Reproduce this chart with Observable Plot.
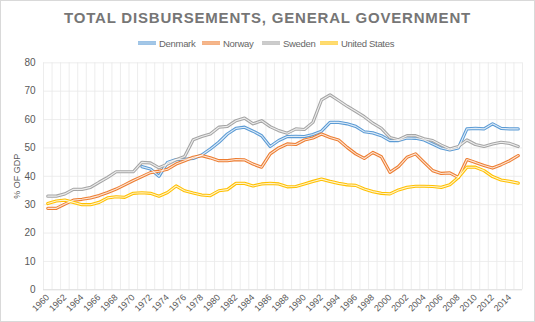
<!DOCTYPE html>
<html>
<head>
<meta charset="utf-8">
<script src="https://cdn.jsdelivr.net/npm/d3@7"></script>
<script src="https://cdn.jsdelivr.net/npm/@observablehq/plot@0.6"></script>
<style>
  html, body { margin: 0; padding: 0; background: #fff; }
  #wrap { position: relative; width: 535px; height: 322px; overflow: hidden; font-family: "Liberation Sans", Arial, sans-serif; }
  #border { position: absolute; left: 0; top: 0; width: 533px; height: 320px; border: 1px solid #d9d9d9; pointer-events: none; }
  #title { position: absolute; left: 0; top: 9px; width: 535px; text-align: center; white-space: nowrap; }
  #title span { font-weight: bold; font-size: 15px; color: #767676; letter-spacing: 2px; }
  #legend { position: absolute; left: 0; top: 38px; width: 535px; height: 14px; }
  .li { position: absolute; top: 0; font-size: 9.5px; letter-spacing: -0.3px; color: #666; line-height: 12px; white-space: nowrap; }
  .li svg { vertical-align: middle; margin-right: 3px; position: relative; top: -1px; }
  #chart { position: absolute; left: 0; top: 50px; }
</style>
</head>
<body>
<div id="wrap">
  <div id="title"><span>TOTAL DISBURSEMENTS, GENERAL GOVERNMENT</span></div>
  <div id="legend"></div>
  <div id="chart"></div>
  <div id="border"></div>
</div>
<script>
const years = d3.range(1960, 2016);
const seriesNames = ["Denmark", "Norway", "Sweden", "United States"];
const seriesColors = ["#5B9BD5", "#ED7D31", "#A5A5A5", "#FFC000"];
const yTicks = [0, 10, 20, 30, 40, 50, 60, 70, 80];
const xTickLabels = d3.range(1960, 2015, 2);

const denmark = [null, null, null, null, null, null, null, null, null, null, null,
  43.4, 42.6, 40.0, 44.9, 45.9, 46.0, 46.3, 47.5, 49.6, 52.0,
  54.9, 56.9, 57.3, 55.9, 54.3, 50.5, 52.6, 54.0, 54.1, 54.0,
  54.7, 55.9, 59.0, 59.0, 58.5, 57.6, 55.7, 55.3, 54.3, 52.6,
  52.6, 53.5, 53.4, 52.8, 51.4, 50.0, 49.3, 50.0, 56.7, 56.9,
  56.7, 58.5, 56.9, 56.7, 56.7];
const norway = [28.7, 28.7, 30.2, 31.6, 31.9, 32.4, 33.2, 34.3, 35.5, 37.0,
  38.5, 39.9, 41.3, 41.8, 42.5, 44.3, 45.5, 46.7, 47.3, 46.5,
  45.5, 45.5, 45.9, 45.8, 44.3, 43.2, 47.9, 50.0, 51.4, 51.2,
  52.8, 53.5, 54.9, 53.7, 52.8, 50.2, 47.9, 46.3, 48.4, 46.9,
  41.4, 43.4, 46.7, 47.9, 44.9, 42.0, 41.0, 41.2, 39.6, 45.9,
  44.9, 43.8, 42.9, 44.1, 45.5, 47.3];
const sweden = [33.0, 33.0, 33.8, 35.4, 35.4, 36.1, 37.9, 39.6, 41.6, 41.6,
  41.6, 44.9, 44.7, 43.0, 44.3, 45.8, 47.0, 52.9, 54.0, 54.9,
  57.3, 57.6, 59.6, 60.5, 58.5, 59.6, 57.5, 56.1, 55.2, 56.7,
  56.5, 59.0, 66.9, 68.7, 66.7, 64.7, 62.9, 61.0, 58.7, 56.9,
  53.7, 52.9, 54.3, 54.3, 53.2, 52.6, 51.0, 49.6, 50.5, 52.8,
  51.2, 50.5, 51.4, 52.0, 51.6, 50.5];
const unitedStates = [30.4, 31.3, 31.6, 30.8, 30.0, 30.0, 30.8, 32.4, 32.8, 32.6,
  34.0, 34.2, 34.0, 33.0, 34.3, 36.6, 34.9, 34.1, 33.4, 33.2,
  34.9, 35.3, 37.5, 37.5, 36.6, 37.3, 37.5, 37.3, 36.3, 36.4,
  37.3, 38.2, 39.0, 38.2, 37.5, 37.0, 36.8, 35.5, 34.6, 34.0,
  33.8, 35.2, 36.1, 36.5, 36.5, 36.4, 36.1, 37.0, 39.6, 43.2,
  43.2, 42.0, 39.9, 38.7, 38.2, 37.6];

const seriesValues = [denmark, norway, sweden, unitedStates];
const rows = [];
seriesNames.forEach((name, i) => {
  years.forEach((yr, j) => rows.push({series: name, year: yr, value: seriesValues[i][j]}));
});

// title width fit
const tspan = document.querySelector("#title span");
const targetW = 407;
const w0 = tspan.getBoundingClientRect().width;
const n = tspan.textContent.length;
tspan.style.letterSpacing = (2 + (targetW - w0) / n) + "px";

// legend
const legendX = [138, 202, 262, 320];
const leg = document.getElementById("legend");
seriesNames.forEach((name, i) => {
  const d = document.createElement("div");
  d.className = "li";
  d.style.left = legendX[i] + "px";
  d.innerHTML = `<svg width="18" height="6"><line x1="0" x2="18" y1="3" y2="3" stroke="${seriesColors[i]}" stroke-width="3.2"/><line x1="0" x2="18" y1="3" y2="3" stroke="#fff" stroke-opacity="0.8" stroke-width="1.1"/></svg>${name}`;
  leg.appendChild(d);
});

const gridX = d3.range(1959.5, 2016, 1);

const chart = Plot.plot({
  width: 535,
  height: 272,
  marginLeft: 43,
  marginRight: 13,
  marginTop: 12.3,
  marginBottom: 32.7,
  style: {fontFamily: "Liberation Sans, Arial, sans-serif", color: "#595959", background: "transparent"},
  x: {domain: [1959.5, 2015.5]},
  y: {domain: [0, 80]},
  color: {domain: seriesNames, range: seriesColors},
  marks: [
    Plot.ruleX(gridX, {stroke: "#e8e8e8", strokeWidth: 0.8}),
    Plot.ruleY(yTicks.filter(d => d > 0), {stroke: "#e8e8e8", strokeWidth: 0.8}),
    Plot.ruleY([0], {stroke: "#d9d9d9", strokeWidth: 1}),
    Plot.axisY(yTicks, {tickSize: 0, tickPadding: 8, fontSize: 10, label: null}),
    Plot.text(["% OF GDP"], {frameAnchor: "left", dx: -26, rotate: -90, fontSize: 9, fill: "#595959", textAnchor: "middle"}),
    Plot.axisX(xTickLabels, {tickSize: 0, tickPadding: 6, tickRotate: -45, fontSize: 9, label: null, tickFormat: d => String(d)}),
    Plot.line(rows, {x: "year", y: "value", z: "series", stroke: "series", strokeWidth: 3.2, curve: "linear"}),
    Plot.line(rows, {x: "year", y: "value", z: "series", stroke: "#fff", strokeOpacity: 0.8, strokeWidth: 1.1, curve: "linear"})
  ]
});
document.getElementById("chart").appendChild(chart);
</script>
</body>
</html>
